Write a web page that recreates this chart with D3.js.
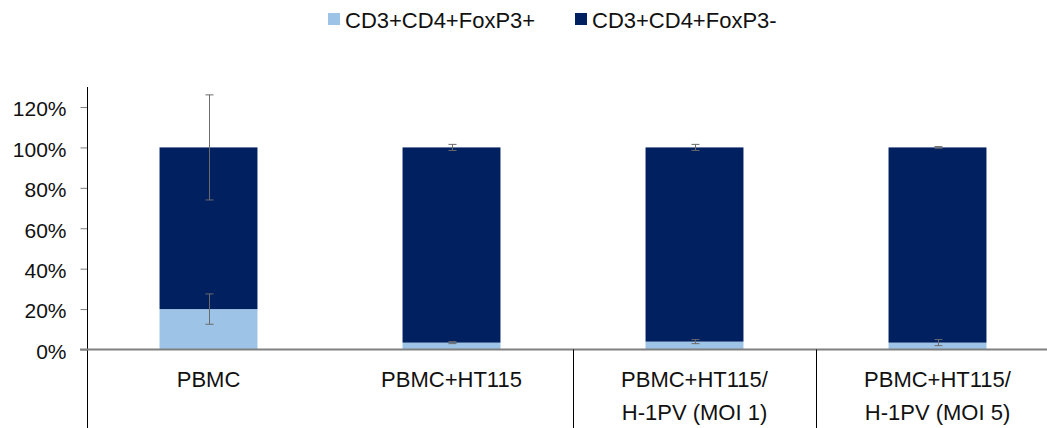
<!DOCTYPE html>
<html>
<head>
<meta charset="utf-8">
<script src="https://cdn.jsdelivr.net/npm/d3@7"></script>
<style>
  html, body { margin: 0; padding: 0; background: #fff; }
  svg { display: block; font-family: "Liberation Sans", Arial, sans-serif; }
</style>
</head>
<body>
<svg id="chart" width="1047" height="428"></svg>
<script>
// Share of CD3+CD4+ T cells that are FoxP3+ / FoxP3- per co-culture condition (%)
const categories = ["PBMC", "PBMC+HT115", "PBMC+HT115/\nH-1PV (MOI 1)", "PBMC+HT115/\nH-1PV (MOI 5)"];
const seriesNames = ["CD3+CD4+FoxP3+", "CD3+CD4+FoxP3-"];
const foxp3Pos = [20, 3.4, 3.9, 3.4];
const foxp3Neg = [80, 96.6, 96.1, 96.6];
const foxp3PosErr = [7.5, 0.5, 1.0, 1.5];
const foxp3NegErr = [26, 1.5, 1.5, 0.4];
const yTicks = [0, 20, 40, 60, 80, 100, 120];
const colors = ["#9dc3e6", "#002060"];

const svg = d3.select("#chart");
const W = 1047, H = 428;
const plot = { left: 87, right: 1059, top: 87, bottom: 349.5 };

const x = d3.scaleBand()
  .domain(categories)
  .range([plot.left, plot.right])
  .paddingInner(0.597)
  .paddingOuter(0.2985);

const y = d3.scaleLinear().domain([0, 120]).range([plot.bottom, 107]);

// stacked layout
const rows = categories.map((c, i) => ({ cat: c, pos: foxp3Pos[i], neg: foxp3Neg[i] }));
const stack = d3.stack().keys(["pos", "neg"])(rows);

const g = svg.append("g");

stack.forEach((layer, li) => {
  g.append("g").selectAll("rect")
    .data(layer)
    .join("rect")
    .attr("x", d => x(d.data.cat))
    .attr("width", x.bandwidth())
    .attr("y", d => y(d[1]))
    .attr("height", d => y(d[0]) - y(d[1]))
    .attr("fill", colors[li]);
});

// error bars at the top of each segment
const errs = [foxp3PosErr, foxp3NegErr];
stack.forEach((layer, li) => {
  const eg = g.append("g").attr("stroke", "#6b6b6b").attr("stroke-width", 1);
  layer.forEach((d, i) => {
    const cx = Math.round(x(d.data.cat) + x.bandwidth() / 2) + 0.5;
    const top = d[1], e = errs[li][i];
    const y1 = y(top + e), y2 = y(top - e);
    eg.append("line").attr("x1", cx).attr("x2", cx).attr("y1", y1).attr("y2", y2);
    eg.append("line").attr("x1", cx - 4).attr("x2", cx + 4).attr("y1", y1).attr("y2", y1);
    eg.append("line").attr("x1", cx - 4).attr("x2", cx + 4).attr("y1", y2).attr("y2", y2);
  });
});

// y axis
const yAxis = d3.axisLeft(y).tickValues(yTicks).tickFormat(d => d + "%").tickSize(7).tickPadding(14);
const ya = svg.append("g").attr("transform", `translate(${plot.left + 0.5},0)`).call(yAxis);
ya.select(".domain").remove();
ya.selectAll(".tick line").attr("stroke", "#808080");
ya.selectAll(".tick text")
  .attr("font-size", 21)
  .attr("fill", "#111")
  .attr("dy", "0.42em")
  .attr("font-family", "'Liberation Sans', Arial, sans-serif");
svg.append("line")
  .attr("x1", plot.left + 0.5).attr("x2", plot.left + 0.5)
  .attr("y1", plot.top).attr("y2", H)
  .attr("stroke", "#000").attr("stroke-width", 1);

// x axis line
svg.append("line")
  .attr("x1", 80).attr("x2", W)
  .attr("y1", plot.bottom).attr("y2", plot.bottom)
  .attr("stroke", "#808080").attr("stroke-width", 2);

// group separators below the axis
[2, 3].forEach(i => {
  const sx = Math.round(x(categories[i]) - x.step() * x.paddingInner() / 2) + 0.5;
  svg.append("line")
    .attr("x1", sx).attr("x2", sx)
    .attr("y1", plot.bottom).attr("y2", H)
    .attr("stroke", "#000").attr("stroke-width", 1);
});

// category labels
const cl = svg.append("g").attr("font-size", 22).attr("fill", "#111").attr("text-anchor", "middle");
categories.forEach(c => {
  const cx = x(c) + x.bandwidth() / 2;
  c.split("\n").forEach((line, k) => {
    cl.append("text").attr("x", cx).attr("y", 387 + k * 33).text(line);
  });
});

// legend
const lg = svg.append("g").attr("font-size", 22).attr("fill", "#111");
const legendX = [328, 575];
seriesNames.forEach((s, i) => {
  lg.append("rect").attr("x", legendX[i]).attr("y", 13).attr("width", 12).attr("height", 12).attr("fill", colors[i]);
  lg.append("text").attr("x", legendX[i] + 17).attr("y", 28).text(s);
});
</script>
</body>
</html>
